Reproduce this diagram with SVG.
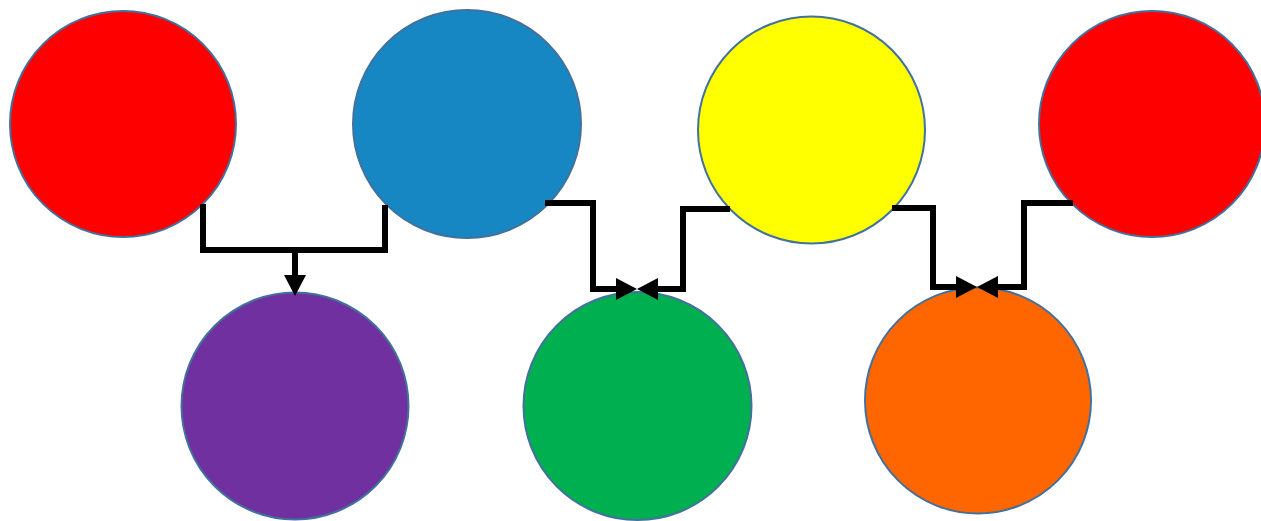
<svg xmlns="http://www.w3.org/2000/svg" width="1261" height="521" viewBox="0 0 1261 521">
<style>
.node{stroke:#41719C;stroke-width:2}
.conn{fill:none;stroke:#000;stroke-width:6;stroke-linejoin:miter;stroke-linecap:butt}
</style>
<defs>
<marker id="arr" markerUnits="userSpaceOnUse" markerWidth="24" markerHeight="24" viewBox="0 0 24 24" refX="10" refY="12" orient="auto">
<polygon points="0,1 21,12 0,23" fill="#000"/>
</marker>
</defs>
<rect width="1261" height="521" fill="#fff"/>
<g id="red1"><circle class="node" cx="123" cy="124" r="113" fill="#FF0000"/></g>
<g id="blue"><circle class="node" cx="467" cy="124" r="114" fill="#1787C3" stroke="#1C80B8"/></g>
<g id="yellow"><circle class="node" cx="811.5" cy="130" r="113.5" fill="#FFFF00"/></g>
<g id="red2"><circle class="node" cx="1152" cy="124" r="113" fill="#FF0000"/></g>
<g id="purple"><circle class="node" cx="295" cy="406" r="113.5" fill="#7030A0"/></g>
<g id="green"><circle class="node" cx="637.5" cy="406" r="114" fill="#00B050" stroke="#254061"/></g>
<g id="orange"><circle class="node" cx="978" cy="400.5" r="113" fill="#FF6600"/></g>
<g id="connectors">
<polyline class="conn" points="203,204 203,250 385,250 385,205"/>
<polyline class="conn" points="295,250 295,285" marker-end="url(#arr)"/>
<polyline class="conn" points="545,203 593,203 593,289 626,289" marker-end="url(#arr)"/>
<polyline class="conn" points="730,209 683,209 683,289 648,289" marker-end="url(#arr)"/>
<polyline class="conn" points="892,208 933,208 933,287 966,287" marker-end="url(#arr)"/>
<polyline class="conn" points="1073,203 1024,203 1024,287 988,287" marker-end="url(#arr)"/>
</g>
</svg>
